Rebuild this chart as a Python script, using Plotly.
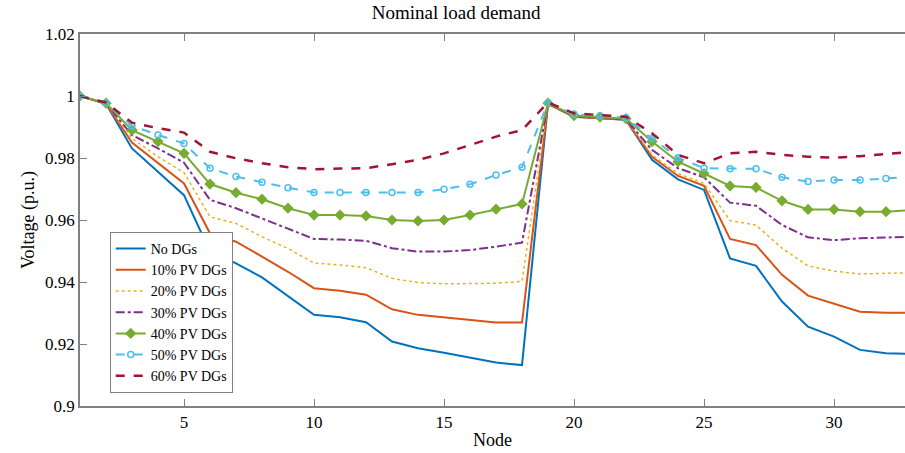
import plotly.graph_objects as go

nodes = list(range(1, 34))

no_dg = [1.0, 0.9975, 0.9831, 0.9756, 0.9680, 0.9498, 0.9460, 0.9415, 0.9353, 0.9294, 0.9286,
         0.9270, 0.9208, 0.9186, 0.9172, 0.9157, 0.9140, 0.9132, 0.9975, 0.9933, 0.9928, 0.9923,
         0.9794, 0.9731, 0.9697, 0.9476, 0.9452, 0.9337, 0.9256, 0.9224, 0.9181, 0.9170, 0.9168]
pv10 = [1.0, 0.9975, 0.9850, 0.9783, 0.9718, 0.9557, 0.9530, 0.9482, 0.9433, 0.9380, 0.9372,
        0.9359, 0.9312, 0.9294, 0.9286, 0.9277, 0.9269, 0.9269, 0.9975, 0.9933, 0.9928, 0.9923,
        0.9804, 0.9742, 0.9710, 0.9539, 0.9519, 0.9423, 0.9356, 0.9331, 0.9304, 0.9301, 0.9301]
pv20 = [1.0, 0.9975, 0.9863, 0.9804, 0.9753, 0.9610, 0.9589, 0.9546, 0.9508, 0.9461, 0.9455,
        0.9446, 0.9412, 0.9398, 0.9394, 0.9394, 0.9396, 0.9402, 0.9975, 0.9934, 0.9929, 0.9924,
        0.9810, 0.9750, 0.9718, 0.9598, 0.9584, 0.9509, 0.9452, 0.9435, 0.9426, 0.9428, 0.9430]
pv30 = [1.0, 0.9976, 0.9874, 0.9831, 0.9785, 0.9665, 0.9638, 0.9605, 0.9573, 0.9539, 0.9537,
        0.9533, 0.9509, 0.9498, 0.9498, 0.9503, 0.9514, 0.9527, 0.9976, 0.9935, 0.9930, 0.9925,
        0.9826, 0.9767, 0.9738, 0.9656, 0.9646, 0.9584, 0.9544, 0.9535, 0.9541, 0.9543, 0.9546]
pv40 = [1.0, 0.9977, 0.9890, 0.9853, 0.9815, 0.9716, 0.9688, 0.9667, 0.9638, 0.9616, 0.9616,
        0.9613, 0.9600, 0.9597, 0.9600, 0.9616, 0.9635, 0.9652, 0.9977, 0.9937, 0.9932, 0.9927,
        0.9853, 0.9788, 0.9750, 0.9710, 0.9705, 0.9662, 0.9634, 0.9634, 0.9627, 0.9627, 0.9632]
pv50 = [1.0, 0.9978, 0.9904, 0.9874, 0.9847, 0.9767, 0.9740, 0.9722, 0.9704, 0.9689, 0.9689,
        0.9689, 0.9689, 0.9689, 0.9699, 0.9715, 0.9745, 0.9770, 0.9978, 0.9941, 0.9936, 0.9930,
        0.9863, 0.9801, 0.9767, 0.9765, 0.9765, 0.9738, 0.9724, 0.9729, 0.9729, 0.9734, 0.9740]
pv60 = [1.0, 0.9979, 0.9914, 0.9896, 0.9882, 0.9820, 0.9799, 0.9783, 0.9770, 0.9764, 0.9766,
        0.9767, 0.9780, 0.9794, 0.9815, 0.9842, 0.9869, 0.9890, 0.9979, 0.9944, 0.9939, 0.9933,
        0.9880, 0.9810, 0.9783, 0.9815, 0.9820, 0.9810, 0.9804, 0.9801, 0.9806, 0.9813, 0.9820]

series_names = ["No DGs", "10% PV DGs", "20% PV DGs", "30% PV DGs",
                "40% PV DGs", "50% PV DGs", "60% PV DGs"]
series_values = [no_dg, pv10, pv20, pv30, pv40, pv50, pv60]
colors = ["#0072BD", "#D95319", "#EDB120", "#7E2F8E", "#77AC30", "#4DBEEE", "#A2142F"]
dashes = ["solid", "solid", "dot", "dashdot", "solid", "dash", "dash"]
widths = [2, 2, 1.5, 2, 2, 2, 2.5]
markers = [None, None, None, None, "diamond", "circle-open", None]

y_ticks = [0.9, 0.92, 0.94, 0.96, 0.98, 1.0, 1.02]
y_tick_labels = ["0.9", "0.92", "0.94", "0.96", "0.98", "1", "1.02"]
x_ticks = [5, 10, 15, 20, 25, 30]

fig = go.Figure()
for name, vals, c, d, w, m in zip(series_names, series_values, colors, dashes, widths, markers):
    if m:
        kw = dict(mode="lines+markers",
                  marker=dict(symbol=m, size=7 if m == "diamond" else 6, color=c,
                              line=dict(color=c, width=1.5)))
    else:
        kw = dict(mode="lines")
    fig.add_trace(go.Scatter(x=nodes, y=vals, name=name,
                             line=dict(color=c, dash=d, width=w), **kw))

font_family = "Liberation Serif, Times New Roman, serif"
fig.update_layout(
    width=905, height=453,
    margin=dict(l=80, r=0, t=34, b=47),
    paper_bgcolor="white", plot_bgcolor="white",
    font=dict(family=font_family, size=17, color="black"),
    title=dict(text="Nominal load demand", x=0.504, xanchor="center", y=0.972, yanchor="middle",
               font=dict(family=font_family, size=19, color="black")),
    xaxis=dict(range=[1, 32.73], tickvals=x_ticks, ticks="inside", ticklen=7,
               tickcolor="#808080", showline=True, linecolor="#808080", linewidth=1.5,
               mirror="ticks", showgrid=False, zeroline=False,
               title=dict(text="Node", standoff=2, font=dict(size=18)),
               tickfont=dict(size=17)),
    yaxis=dict(range=[0.9, 1.02], tickvals=y_ticks, ticktext=y_tick_labels,
               ticks="inside", ticklen=7, tickcolor="#808080",
               showline=True, linecolor="#808080", linewidth=1.5,
               showgrid=False, zeroline=False,
               title=dict(text="Voltage (p.u.)", standoff=6, font=dict(size=18)),
               tickfont=dict(size=17)),
    legend=dict(x=0.036, y=0.035, xanchor="left", yanchor="bottom",
                bordercolor="#808080", borderwidth=1, bgcolor="white",
                font=dict(size=14), tracegroupgap=0, itemwidth=30),
)

fig.write_html("out.html", config={"displayModeBar": False},
               post_script="document.body.style.margin='0';")
